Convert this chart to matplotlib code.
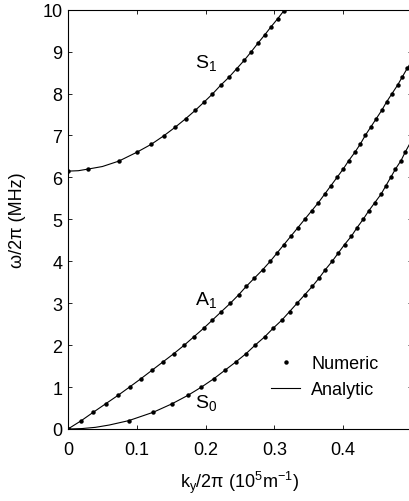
import matplotlib
matplotlib.use('Agg')
from matplotlib import pyplot as plt

plt.rcParams['font.family'] = ['Liberation Sans', 'DejaVu Sans']
plt.rcParams['font.size'] = 13
plt.rcParams['mathtext.default'] = 'regular'
plt.rcParams['axes.unicode_minus'] = True

# numeric points (frequency steps of 0.2 MHz)
s1_x = [0.0, 0.0295, 0.074, 0.100, 0.121, 0.139, 0.156, 0.171, 0.185, 0.198, 0.210,
        0.222, 0.234, 0.245, 0.256, 0.266, 0.276, 0.286, 0.295, 0.305, 0.314]
s1_y = [6.15, 6.20, 6.39, 6.60, 6.79, 6.99, 7.20, 7.40, 7.60, 7.80, 7.99,
        8.20, 8.39, 8.59, 8.79, 8.99, 9.20, 9.40, 9.59, 9.79, 9.98]

a1_x = [0.0, 0.0194, 0.0368, 0.0546, 0.0725, 0.0894, 0.106, 0.122, 0.138, 0.154, 0.169,
        0.183, 0.197, 0.210, 0.223, 0.236, 0.248, 0.259, 0.271, 0.283, 0.294,
        0.304, 0.314, 0.324, 0.334, 0.344, 0.354, 0.364, 0.373, 0.382, 0.391,
        0.400, 0.408, 0.417, 0.425, 0.432, 0.440, 0.448, 0.456, 0.463, 0.471,
        0.479, 0.486, 0.493]
a1_y = [0.0, 0.2, 0.4, 0.6, 0.8, 1.0, 1.2, 1.4, 1.6, 1.8, 2.0,
        2.2, 2.4, 2.6, 2.8, 3.0, 3.2, 3.4, 3.6, 3.8, 4.0,
        4.2, 4.4, 4.6, 4.8, 5.0, 5.2, 5.4, 5.6, 5.8, 6.0,
        6.2, 6.4, 6.6, 6.8, 7.0, 7.2, 7.4, 7.6, 7.8, 8.0,
        8.2, 8.4, 8.6]

s0_x = [0.0, 0.0884, 0.124, 0.151, 0.174, 0.194, 0.212, 0.228, 0.244, 0.259, 0.272,
        0.286, 0.298, 0.311, 0.322, 0.333, 0.344, 0.355, 0.365, 0.374, 0.384,
        0.393, 0.402, 0.412, 0.420, 0.429, 0.437, 0.446, 0.455, 0.462, 0.469,
        0.476, 0.484, 0.490]
s0_y = [0.0, 0.2, 0.4, 0.6, 0.8, 1.0, 1.2, 1.4, 1.6, 1.8, 2.0,
        2.2, 2.4, 2.6, 2.8, 3.0, 3.2, 3.4, 3.6, 3.8, 4.0,
        4.2, 4.4, 4.6, 4.8, 5.0, 5.2, 5.4, 5.6, 5.8, 6.0,
        6.2, 6.4, 6.6]

# analytic curves: the numeric points plus a few extra readings
s1_line_x = [0.0, 0.015, 0.0295, 0.05] + s1_x[2:]
s1_line_y = [6.15, 6.16, 6.20, 6.26] + s1_y[2:]
a1_line_x = a1_x + [0.5]
a1_line_y = a1_y + [8.78]
s0_line_x = [0.0, 0.02, 0.04, 0.06] + s0_x[1:] + [0.5]
s0_line_y = [0.0, 0.01, 0.04, 0.095] + s0_y[1:] + [6.9]

fig = plt.figure(figsize=(4.09, 5.02), dpi=100)
ax = fig.add_axes([68 / 409, 72 / 502, 344 / 409, 419.3 / 502])

for lx, ly in [(s1_line_x, s1_line_y), (a1_line_x, a1_line_y), (s0_line_x, s0_line_y)]:
    ax.plot(lx, ly, color='black', lw=0.8)
for px, py in [(s1_x, s1_y), (a1_x, a1_y), (s0_x, s0_y)]:
    ax.plot(px, py, 'o', color='black', ms=3.2, mew=0)

# legend proxies
ax.plot([], [], 'o', color='black', ms=3.2, mew=0, label='Numeric')
ax.plot([], [], color='black', lw=0.8, label='Analytic')
h, l = ax.get_legend_handles_labels()
ax.legend(h, l, loc='upper left', bbox_to_anchor=(0.565, 0.198), frameon=False,
          borderpad=0, handlelength=1.6, handletextpad=0.6, labelspacing=0.5,
          fontsize=13)

ax.text(0.201, 8.76, '$S_1$', ha='center', va='center', fontsize=14)
ax.text(0.201, 3.10, '$A_1$', ha='center', va='center', fontsize=14)
ax.text(0.200, 0.64, '$S_0$', ha='center', va='center', fontsize=14)

ax.set_xlim(0, 0.5)
ax.set_ylim(0, 10)
ax.set_xticks([0, 0.1, 0.2, 0.3, 0.4])
ax.set_xticklabels(['0', '0.1', '0.2', '0.3', '0.4'])
ax.set_yticks(range(0, 11))
ax.tick_params(direction='in', length=3, width=0.6, top=True, right=True)
ax.tick_params(axis='x', pad=9)
ax.tick_params(axis='y', pad=4)
for s in ax.spines.values():
    s.set_linewidth(0.8)

ax.set_xlabel('$k_y$/2π (10$^5$m$^{-1}$)', labelpad=7)
ax.set_ylabel('ω/2π (MHz)', labelpad=12)

fig.savefig('out.png', dpi=100)
